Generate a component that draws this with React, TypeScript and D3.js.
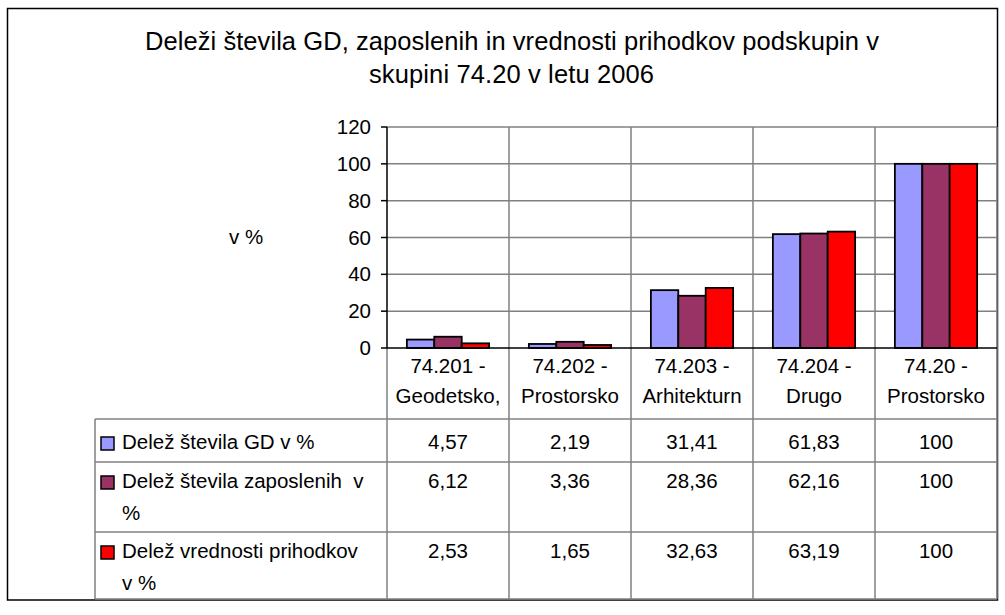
import { useEffect } from 'react';
import * as d3 from 'd3';

const CATEGORIES = ['74.201', '74.202', '74.203', '74.204', '74.20'];
const CAT_LINE1 = ['74.201 -', '74.202 -', '74.203 -', '74.204 -', '74.20 -'];
const CAT_LINE2 = ['Geodetsko,', 'Prostorsko', 'Arhitekturn', 'Drugo', 'Prostorsko'];
const GD_SHARE = [4.57, 2.19, 31.41, 61.83, 100];
const EMPLOYEE_SHARE = [6.12, 3.36, 28.36, 62.16, 100];
const REVENUE_SHARE = [2.53, 1.65, 32.63, 63.19, 100];
const SERIES_NAMES = ['Delež števila GD v %', 'Delež števila zaposlenih  v|%', 'Delež vrednosti prihodkov|v %'];
const SERIES_COLORS = ['#9999FF', '#993366', '#FF0000'];
const Y_TICKS = [0, 20, 40, 60, 80, 100, 120];
const VALUE_LABELS = [
  ['4,57', '2,19', '31,41', '61,83', '100'],
  ['6,12', '3,36', '28,36', '62,16', '100'],
  ['2,53', '1,65', '32,63', '63,19', '100'],
];

const W = 1005;
const H = 615;
const PLOT = { left: 387, right: 997, top: 127, bottom: 348 };
const TABLE_LEFT = 95;
const ROW_Y = [348, 419, 462, 532, 599];
const FONT = 'Arial, "Liberation Sans", sans-serif';
const GRID = '#808080';

export default function App() {
  useEffect(() => {
    document.body.style.margin = '0';
  }, []);

  const series = [GD_SHARE, EMPLOYEE_SHARE, REVENUE_SHARE];

  const x0 = d3.scaleBand<string>().domain(CATEGORIES).range([PLOT.left, PLOT.right]).padding(0);
  const x1 = d3
    .scaleBand<number>()
    .domain([0, 1, 2])
    .range([0, x0.bandwidth()])
    .paddingInner(0)
    .paddingOuter(0.725);
  const y = d3.scaleLinear().domain([0, 120]).range([PLOT.bottom, PLOT.top]);

  const dividers = CATEGORIES.map((c) => (x0(c) as number) + x0.bandwidth());

  return (
    <div style={{ position: 'fixed', left: 0, top: 0 }}>
      <svg width={W} height={H} style={{ display: 'block', background: '#fff' }} fontFamily={FONT}>
        {/* outer frame */}
        <rect x={7.5} y={8.5} width={990} height={591.5} fill="#fff" stroke="#000" strokeWidth={1.5} />

        {/* title */}
        <text x={512} y={50} textAnchor="middle" fontSize={25.5} fill="#000" textLength={734} lengthAdjust="spacing">
          Deleži števila GD, zaposlenih in vrednosti prihodkov podskupin v
        </text>
        <text x={511.5} y={83} textAnchor="middle" fontSize={25.5} fill="#000" textLength={285} lengthAdjust="spacing">
          skupini 74.20 v letu 2006
        </text>

        {/* horizontal gridlines */}
        {Y_TICKS.filter((t) => t > 0).map((t) => (
          <line key={t} x1={PLOT.left} x2={PLOT.right} y1={y(t)} y2={y(t)} stroke={GRID} strokeWidth={1.5} />
        ))}

        {/* vertical dividers through plot and table */}
        {dividers.map((dx, i) => (
          <line key={i} x1={dx} x2={dx} y1={PLOT.top} y2={ROW_Y[4]} stroke={GRID} strokeWidth={1.5} />
        ))}
        <line x1={PLOT.left} x2={PLOT.left} y1={PLOT.bottom} y2={ROW_Y[4]} stroke={GRID} strokeWidth={1.5} />

        {/* table rows */}
        {ROW_Y.slice(1).map((ry, i) => (
          <line key={i} x1={TABLE_LEFT} x2={PLOT.right} y1={ry} y2={ry} stroke={GRID} strokeWidth={1.5} />
        ))}
        <line x1={TABLE_LEFT} x2={TABLE_LEFT} y1={ROW_Y[1]} y2={ROW_Y[4]} stroke={GRID} strokeWidth={1.5} />

        {/* bars */}
        {series.map((vals, si) =>
          CATEGORIES.map((c, ci) => {
            const bx = (x0(c) as number) + (x1(si) as number);
            return (
              <rect
                key={`${si}-${ci}`}
                x={bx}
                y={y(vals[ci])}
                width={x1.bandwidth()}
                height={y(0) - y(vals[ci])}
                fill={SERIES_COLORS[si]}
                stroke="#000"
                strokeWidth={1.8}
              />
            );
          })
        )}

        {/* axes */}
        <line x1={PLOT.left} x2={PLOT.left} y1={PLOT.top} y2={PLOT.bottom} stroke="#000" strokeWidth={1.5} />
        <line x1={PLOT.left} x2={PLOT.right} y1={y(0)} y2={y(0)} stroke="#000" strokeWidth={1.5} />
        {Y_TICKS.map((t) => (
          <g key={t}>
            <line x1={PLOT.left - 6} x2={PLOT.left} y1={y(t)} y2={y(t)} stroke="#000" strokeWidth={1.5} />
            <text x={371} y={y(t) + 7} textAnchor="end" fontSize={20.5} fill="#000">
              {t}
            </text>
          </g>
        ))}
        <text x={229} y={244} fontSize={20.5} fill="#000">
          v %
        </text>

        {/* category labels */}
        {CATEGORIES.map((c, ci) => {
          const cx = (x0(c) as number) + x0.bandwidth() / 2;
          return (
            <g key={c}>
              <text x={cx} y={373} textAnchor="middle" fontSize={20.5} fill="#000">
                {CAT_LINE1[ci]}
              </text>
              <text x={cx} y={403} textAnchor="middle" fontSize={20.5} fill="#000">
                {CAT_LINE2[ci]}
              </text>
            </g>
          );
        })}

        {/* legend + values */}
        {SERIES_NAMES.map((name, si) => {
          const top = ROW_Y[si + 1];
          const base = si === 0 ? top + 30 : top + 26;
          const lines = name.split('|');
          return (
            <g key={si}>
              <rect x={101} y={base - 12} width={13} height={13} fill={SERIES_COLORS[si]} stroke="#000" strokeWidth={1.5} />
              {lines.map((ln, li) => (
                <text key={li} x={122} y={base + li * 32} fontSize={20.5} fill="#000" style={{ whiteSpace: 'pre' }}>
                  {ln}
                </text>
              ))}
              {CATEGORIES.map((c, ci) => (
                <text
                  key={c}
                  x={(x0(c) as number) + x0.bandwidth() / 2}
                  y={base}
                  textAnchor="middle"
                  fontSize={20.5}
                  fill="#000"
                >
                  {VALUE_LABELS[si][ci]}
                </text>
              ))}
            </g>
          );
        })}
      </svg>
    </div>
  );
}
